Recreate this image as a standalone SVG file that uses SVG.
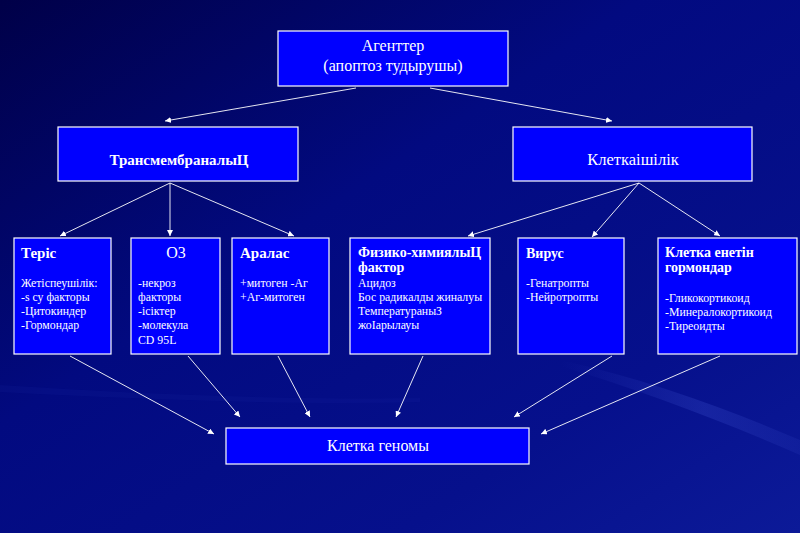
<svg xmlns="http://www.w3.org/2000/svg" width="800" height="533" viewBox="0 0 800 533">
<defs>
<linearGradient id="bg" x1="0" y1="0" x2="1" y2="1">
<stop offset="0" stop-color="#000048"/>
<stop offset="0.4" stop-color="#020a80"/>
<stop offset="0.75" stop-color="#06108c"/>
<stop offset="1" stop-color="#0c1a98"/>
</linearGradient>
<linearGradient id="streak" x1="0" y1="0" x2="1" y2="0">
<stop offset="0" stop-color="#4a60e0" stop-opacity="0"/>
<stop offset="0.6" stop-color="#4a60e0" stop-opacity="0.22"/>
<stop offset="1" stop-color="#4a60e0" stop-opacity="0.1"/>
</linearGradient>
<marker id="ah" viewBox="0 0 10 10" refX="10" refY="5" markerWidth="6" markerHeight="6" markerUnits="userSpaceOnUse" orient="auto">
<path d="M0,0 L10,5 L0,10 z" fill="#ffffff"/>
</marker>
<style>
.box{fill:#0000ff;stroke:#ffffff;stroke-width:1.2}
.t{font-family:"Liberation Serif",serif;fill:#ffffff}
.h{font-size:15px;font-weight:bold}
.h14{font-size:14px;font-weight:bold}
.r{font-size:16px;font-weight:normal}
.hc{text-anchor:middle}
.b{font-size:11.8px}
.c line{stroke:#ffffff;stroke-width:0.9;marker-end:url(#ah)}
</style>
</defs>
<rect width="800" height="533" fill="url(#bg)"/>
<path d="M560,360 C650,380 730,410 800,440 L800,455 C720,420 640,390 560,366 Z" fill="url(#streak)"/>
<path d="M0,385 C150,395 300,400 420,398 L420,402 C300,405 150,400 0,392 Z" fill="#3040c0" opacity="0.08"/>

<g class="c">
<line x1="356" y1="88" x2="165" y2="121"/>
<line x1="430" y1="88" x2="612" y2="121"/>
<line x1="170" y1="183" x2="60" y2="236"/>
<line x1="170" y1="183" x2="170" y2="236"/>
<line x1="170" y1="183" x2="294" y2="236"/>
<line x1="639" y1="183" x2="468" y2="236"/>
<line x1="639" y1="183" x2="592" y2="237"/>
<line x1="639" y1="183" x2="720" y2="236"/>
<line x1="70" y1="356" x2="214" y2="434"/>
<line x1="188" y1="356" x2="240" y2="417"/>
<line x1="278" y1="356" x2="310" y2="417"/>
<line x1="423" y1="356" x2="396" y2="417"/>
<line x1="612" y1="356" x2="514" y2="417"/>
<line x1="720" y1="356" x2="541" y2="434"/>
</g>

<g id="agentter">
<rect class="box" x="278" y="31" width="230" height="55"/>
<text class="t r hc" x="393" y="51">Агенттер</text>
<text class="t r hc" x="393" y="71">(апоптоз  тудырушы)</text>
</g>
<g id="transmembrana">
<rect class="box" x="58" y="127" width="240" height="54"/>
<text class="t h hc" x="179" y="165">ТрансмембраналыЦ</text>
</g>
<g id="kletkaishilik">
<rect class="box" x="513" y="127" width="239" height="54"/>
<text class="t r hc" x="633" y="165" style="font-size:16.5px">Клеткаішілік</text>
</g>
<g id="teris">
<rect class="box" x="14" y="238" width="97" height="116"/>
<text class="t h" x="21" y="258">Теріс</text>
<text class="t b" x="21" y="287">Жетіспеушілік:</text>
<text class="t b" x="21" y="301">-s су факторы</text>
<text class="t b" x="21" y="315">-Цитокиндер</text>
<text class="t b" x="21" y="329">-Гормондар</text>
</g>
<g id="o3">
<rect class="box" x="131" y="238" width="89" height="116"/>
<text class="t r hc" x="176" y="258">О3</text>
<text class="t b" x="138" y="287">-некроз</text>
<text class="t b" x="138" y="301">факторы</text>
<text class="t b" x="138" y="315">-ісіктер</text>
<text class="t b" x="138" y="329">-молекула</text>
<text class="t b" x="138" y="344">CD 95L</text>
</g>
<g id="aralas">
<rect class="box" x="232" y="238" width="97" height="116"/>
<text class="t h" x="240" y="258">Аралас</text>
<text class="t b" x="240" y="287">+митоген -Аг</text>
<text class="t b" x="240" y="301">+Аг-митоген</text>
</g>
<g id="fiziko">
<rect class="box" x="350" y="238" width="140" height="116"/>
<text class="t h14" x="358" y="257">Физико-химиялыЦ</text>
<text class="t h14" x="358" y="272">фактор</text>
<text class="t b" x="358" y="287">Ацидоз</text>
<text class="t b" x="358" y="301">Бос радикалды жиналуы</text>
<text class="t b" x="358" y="315">ТемператураныЗ</text>
<text class="t b" x="358" y="329">жоІарылауы</text>
</g>
<g id="virus">
<rect class="box" x="518" y="238" width="106" height="116"/>
<text class="t h14" x="526" y="258">Вирус</text>
<text class="t b" x="526" y="287">-Генатропты</text>
<text class="t b" x="526" y="301">-Нейротропты</text>
</g>
<g id="gormondar">
<rect class="box" x="658" y="238" width="139" height="116"/>
<text class="t h14" x="665" y="257">Клетка енетін</text>
<text class="t h14" x="665" y="272">гормондар</text>
<text class="t b" x="665" y="302">-Гликокортикоид</text>
<text class="t b" x="665" y="316">-Минералокортикоид</text>
<text class="t b" x="665" y="330">-Тиреоидты</text>
</g>
<g id="genom">
<rect class="box" x="226" y="428" width="303" height="36"/>
<text class="t r hc" x="378" y="451">Клетка геномы</text>
</g>
</svg>
